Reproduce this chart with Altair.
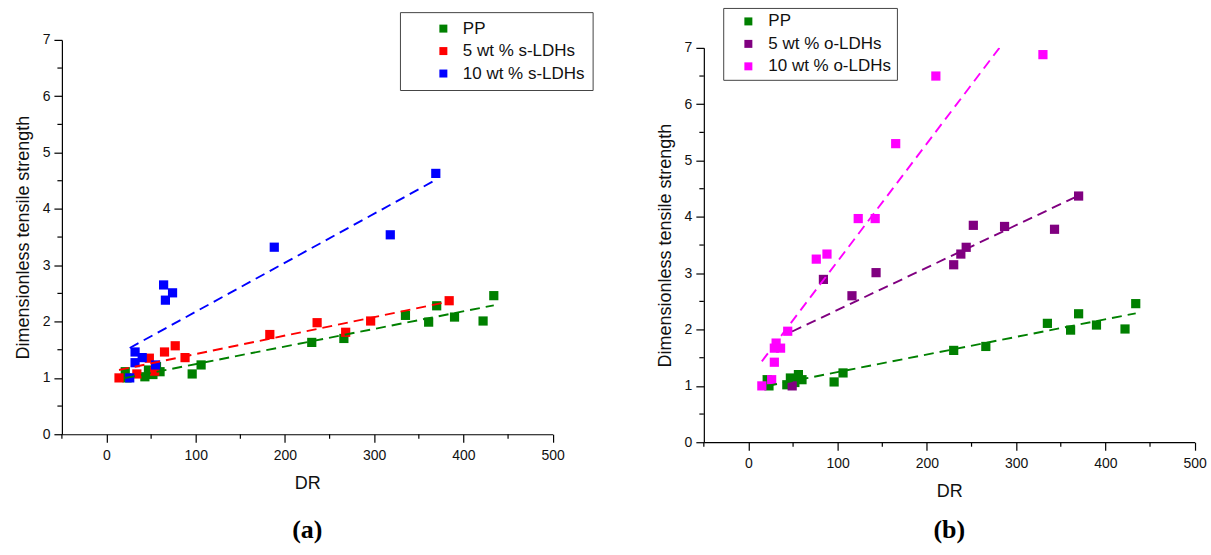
import altair as alt
import pandas as pd

# Dimensionless tensile strength against draw ratio (DR)
PP_DR = [21, 23, 43, 47, 52, 56, 60, 96, 106, 230, 266, 335, 361, 370, 390, 422, 434]
PP_TS = [1.11, 1.00, 1.02, 1.14, 1.06, 1.20, 1.11, 1.07, 1.23, 1.63, 1.70, 2.11, 1.99, 2.28, 2.08, 2.01, 2.46]

S5_DR = [14, 34, 48, 54, 65, 77, 88, 183, 236, 268, 296, 384]
S5_TS = [1.00, 1.07, 1.35, 1.12, 1.46, 1.57, 1.36, 1.77, 1.98, 1.81, 2.01, 2.37]

S10_DR = [26, 32, 32, 40, 55, 64, 66, 74, 188, 318, 369]
S10_TS = [1.00, 1.46, 1.27, 1.36, 1.23, 2.65, 2.38, 2.51, 3.32, 3.54, 4.63]

O5_DR = [49, 84, 116, 143, 230, 238, 244, 252, 287, 343, 370]
O5_TS = [1.00, 2.89, 2.60, 3.01, 3.15, 3.34, 3.46, 3.85, 3.83, 3.78, 4.37]

O10_DR = [15, 26, 29, 29, 31, 36, 44, 76, 88, 123, 142, 165, 210, 330]
O10_TS = [1.00, 1.11, 1.42, 1.67, 1.76, 1.67, 1.97, 3.25, 3.34, 3.97, 3.97, 5.30, 6.50, 6.88]

LEFT_NAMES = ["PP", "5 wt % s-LDHs", "10 wt % s-LDHs"]
LEFT_COLORS = ["#008000", "#ff0000", "#0000ff"]
RIGHT_NAMES = ["PP", "5 wt % o-LDHs", "10 wt % o-LDHs"]
RIGHT_COLORS = ["#008000", "#800080", "#ff00ff"]

X_MAJOR = [0, 100, 200, 300, 400, 500]
X_MINOR = [-50, 50, 150, 250, 350, 450]
Y_MAJOR = [0, 1, 2, 3, 4, 5, 6, 7]
Y_MINOR = [0.5, 1.5, 2.5, 3.5, 4.5, 5.5, 6.5]

PLOT_W = 491.6
PLOT_H = 395
DROP = 8  # the right panel sits this much lower than the left one
FONT = "Liberation Sans"


def to_frame(names, dr_lists, ts_lists):
    rows = []
    for name, drs, tss in zip(names, dr_lists, ts_lists):
        for d, t in zip(drs, tss):
            rows.append({"series": name, "DR": d, "TS": t})
    return pd.DataFrame(rows)


def panel(df, names, colors, legend, tag, tag_offset):
    x_scale = alt.Scale(domain=[-50, 500], nice=False, zero=False)
    y_scale = alt.Scale(domain=[0, 7], nice=False, zero=False)
    c_scale = alt.Scale(domain=names, range=colors)
    x_axis = alt.Axis(values=X_MAJOR, title="DR")
    y_axis = alt.Axis(values=Y_MAJOR, title="Dimensionless tensile strength")

    points = alt.Chart(df).mark_square(size=85, opacity=1).encode(
        x=alt.X("DR:Q", scale=x_scale, axis=x_axis),
        y=alt.Y("TS:Q", scale=y_scale, axis=y_axis),
        color=alt.Color("series:N", scale=c_scale, sort=names, legend=legend),
    )

    # least-squares fit per series, dashed
    fits = alt.Chart(df).transform_regression(
        "DR", "TS", groupby=["series"]
    ).mark_line(strokeDash=[10, 6], strokeWidth=1.9, clip=True).encode(
        x=alt.X("DR:Q", scale=x_scale, axis=x_axis),
        y=alt.Y("TS:Q", scale=y_scale, axis=y_axis),
        stroke=alt.Stroke("series:N", scale=c_scale, legend=None),
    )

    # short minor ticks between the labelled ones
    x_minor = alt.Chart(pd.DataFrame({"m": X_MINOR})).mark_rule(
        color="black", strokeWidth=1.2, y2Offset=4.5
    ).encode(
        x=alt.X("m:Q", scale=x_scale, axis=x_axis),
        y=alt.YDatum(0, scale=y_scale, axis=y_axis),
        y2=alt.Y2Datum(0),
    )
    y_minor = alt.Chart(pd.DataFrame({"m": Y_MINOR})).mark_rule(
        color="black", strokeWidth=1.2, x2Offset=-4.5
    ).encode(
        y=alt.Y("m:Q", scale=y_scale, axis=y_axis),
        x=alt.XDatum(-50, scale=x_scale, axis=x_axis),
        x2=alt.X2Datum(-50),
    )

    return alt.layer(points, fits, x_minor, y_minor).properties(
        width=PLOT_W, height=PLOT_H,
        title=alt.TitleParams(
            tag, orient="bottom", anchor="middle", frame="group",
            font="Liberation Serif", fontSize=26, fontWeight="bold",
            color="black", offset=tag_offset,
        ),
    )


def boxed_legend(x, y, pad, sym_offset, label_offset):
    return alt.Legend(
        title=None, orient="none", legendX=x, legendY=y,
        symbolType="square", symbolSize=64, symbolStrokeWidth=0,
        labelFont=FONT, labelFontSize=17, labelColor="#111",
        padding=pad, symbolOffset=sym_offset, labelOffset=label_offset, rowPadding=4.5,
        strokeColor="#444", fillColor="white",
    )


left_df = to_frame(LEFT_NAMES, [PP_DR, S5_DR, S10_DR], [PP_TS, S5_TS, S10_TS])
right_df = to_frame(RIGHT_NAMES, [PP_DR, O5_DR, O10_DR], [PP_TS, O5_TS, O10_TS])

left = panel(
    left_df, LEFT_NAMES, LEFT_COLORS,
    boxed_legend(338.6, -27.8, 8, 27, 11), "(a)", 24,
)
# the right legend is placed relative to the stacked group, which starts DROP higher
right_plot = panel(
    right_df, RIGHT_NAMES, RIGHT_COLORS,
    boxed_legend(19.4, -40 + DROP, 5, 11.7, 11.5), "(b)", 24 - DROP,
)

gap = alt.Chart(pd.DataFrame({"v": [0]})).mark_point(opacity=0).properties(
    width=PLOT_W, height=DROP
)
right = alt.vconcat(gap, right_plot, spacing=0, bounds="flush")

chart = alt.hconcat(left, right, spacing=62).resolve_scale(
    color="independent", stroke="independent", x="independent", y="independent"
).configure_axis(
    domainColor="black", domainWidth=1.2, tickColor="black", tickWidth=1.2, tickSize=8,
    labelFont=FONT, labelFontSize=14, labelColor="#111", labelPadding=4, labelFlush=False,
    titleFont=FONT, titleFontSize=18, titleFontWeight="normal", titleColor="#111",
    grid=False,
).configure_axisX(titlePadding=12, labelPadding=6.5).configure_axisY(
    titlePadding=10
).configure_view(
    stroke=None
).properties(
    padding={"left": 14, "top": 6.5, "right": 4, "bottom": 4}
)

chart.save("out.html", embed_options={"renderer": "svg", "actions": False})
